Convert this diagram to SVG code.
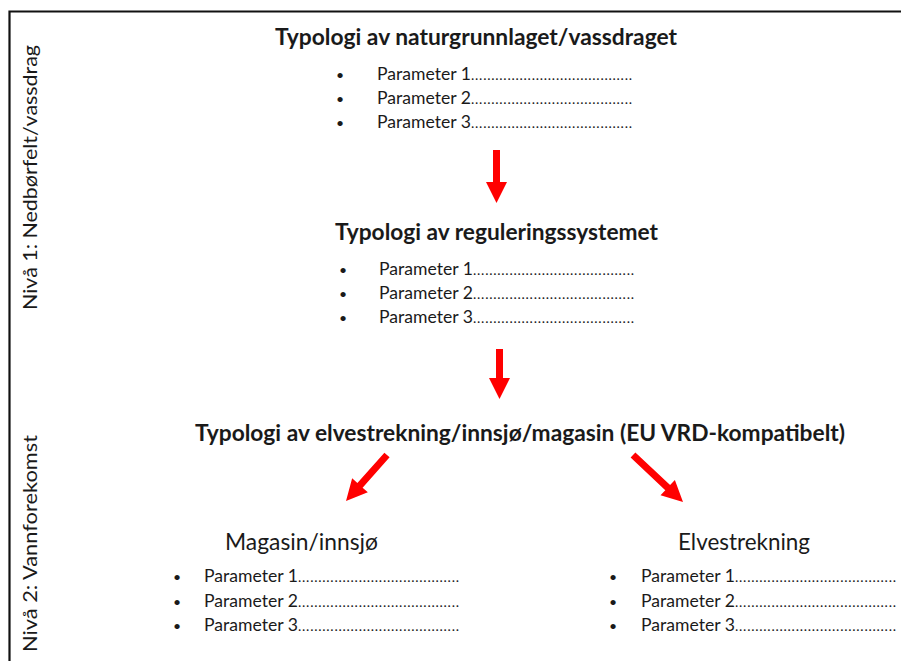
<svg xmlns="http://www.w3.org/2000/svg" width="901" height="661" viewBox="0 0 901 661">
<style>
text{font-family:Lato,"Open Sans","Liberation Sans",sans-serif;fill:#1a1a1a}
.t{font-weight:bold;font-size:23px}
.s{font-size:24px}
.p{font-size:17px}
.d{font-size:14px}
.b{font-size:14px}
.v{font-size:20px}
.arr{fill:#ff0000;stroke:none}
</style>
<rect width="901" height="661" fill="#ffffff"/>
<g id="frame">
<path d="M9.5,661 V11.5 H901" fill="none" stroke="#111" stroke-width="2.2"/>
</g>
<g id="level1-label"><text class="v" transform="translate(37,310) rotate(-90)" textLength="265" lengthAdjust="spacingAndGlyphs">Nivå 1: Nedbørfelt/vassdrag</text></g>
<g id="level2-label"><text class="v" transform="translate(37,652) rotate(-90)" textLength="217" lengthAdjust="spacingAndGlyphs">Nivå 2: Vannforekomst</text></g>
<g id="node-natur">
<text class="t" x="275" y="45" textLength="402" lengthAdjust="spacingAndGlyphs">Typologi av naturgrunnlaget/vassdraget</text>
<text class="b" x="336" y="80">•</text><text class="p" x="377" y="80" textLength="94" lengthAdjust="spacingAndGlyphs">Parameter 1</text><text class="d" x="471" y="80" textLength="161" lengthAdjust="spacing">........................................</text>
<text class="b" x="336" y="104">•</text><text class="p" x="377" y="104" textLength="94" lengthAdjust="spacingAndGlyphs">Parameter 2</text><text class="d" x="471" y="104" textLength="161" lengthAdjust="spacing">........................................</text>
<text class="b" x="336" y="128">•</text><text class="p" x="377" y="128" textLength="94" lengthAdjust="spacingAndGlyphs">Parameter 3</text><text class="d" x="471" y="128" textLength="161" lengthAdjust="spacing">........................................</text>
</g>
<g id="node-regulering">
<text class="t" x="335" y="240" textLength="323" lengthAdjust="spacingAndGlyphs">Typologi av reguleringssystemet</text>
<text class="b" x="339" y="275">•</text><text class="p" x="379" y="275" textLength="94" lengthAdjust="spacingAndGlyphs">Parameter 1</text><text class="d" x="473" y="275" textLength="161" lengthAdjust="spacing">........................................</text>
<text class="b" x="339" y="299">•</text><text class="p" x="379" y="299" textLength="94" lengthAdjust="spacingAndGlyphs">Parameter 2</text><text class="d" x="473" y="299" textLength="161" lengthAdjust="spacing">........................................</text>
<text class="b" x="339" y="323">•</text><text class="p" x="379" y="323" textLength="94" lengthAdjust="spacingAndGlyphs">Parameter 3</text><text class="d" x="473" y="323" textLength="161" lengthAdjust="spacing">........................................</text>
</g>
<g id="node-vannforekomst">
<text class="t" x="195" y="441" textLength="650" lengthAdjust="spacingAndGlyphs">Typologi av elvestrekning/innsjø/magasin (EU VRD-kompatibelt)</text>
</g>
<g id="node-magasin">
<text class="s" x="225" y="550" textLength="153" lengthAdjust="spacingAndGlyphs">Magasin/innsjø</text>
<text class="b" x="173" y="582">•</text><text class="p" x="204" y="582" textLength="94" lengthAdjust="spacingAndGlyphs">Parameter 1</text><text class="d" x="298" y="582" textLength="161" lengthAdjust="spacing">........................................</text>
<text class="b" x="173" y="607">•</text><text class="p" x="204" y="607" textLength="94" lengthAdjust="spacingAndGlyphs">Parameter 2</text><text class="d" x="298" y="607" textLength="161" lengthAdjust="spacing">........................................</text>
<text class="b" x="173" y="631">•</text><text class="p" x="204" y="631" textLength="94" lengthAdjust="spacingAndGlyphs">Parameter 3</text><text class="d" x="298" y="631" textLength="161" lengthAdjust="spacing">........................................</text>
</g>
<g id="node-elvestrekning">
<text class="s" x="678" y="550" textLength="132" lengthAdjust="spacingAndGlyphs">Elvestrekning</text>
<text class="b" x="609" y="582">•</text><text class="p" x="641" y="582" textLength="94" lengthAdjust="spacingAndGlyphs">Parameter 1</text><text class="d" x="735" y="582" textLength="161" lengthAdjust="spacing">........................................</text>
<text class="b" x="609" y="607">•</text><text class="p" x="641" y="607" textLength="94" lengthAdjust="spacingAndGlyphs">Parameter 2</text><text class="d" x="735" y="607" textLength="161" lengthAdjust="spacing">........................................</text>
<text class="b" x="609" y="631">•</text><text class="p" x="641" y="631" textLength="94" lengthAdjust="spacingAndGlyphs">Parameter 3</text><text class="d" x="735" y="631" textLength="161" lengthAdjust="spacing">........................................</text>
</g>
<g id="connectors">
<path class="arr" transform="translate(496.5,150)" d="M-3.5,0 H3.5 V32 H10.5 L0,53 L-10.5,32 H-3.5 Z"/>
<path class="arr" transform="translate(499.5,349)" d="M-3.5,0 H3.5 V29 H10.5 L0,50 L-10.5,29 H-3.5 Z"/>
<path class="arr" transform="translate(387,455) rotate(41.7)" d="M-3.5,0 H3.5 V40.6 H10.5 L0,61.6 L-10.5,40.6 H-3.5 Z"/>
<path class="arr" transform="translate(633,455) rotate(-46.8)" d="M-3.5,0 H3.5 V47.6 H10.5 L0,68.6 L-10.5,47.6 H-3.5 Z"/>
</g>
</svg>
